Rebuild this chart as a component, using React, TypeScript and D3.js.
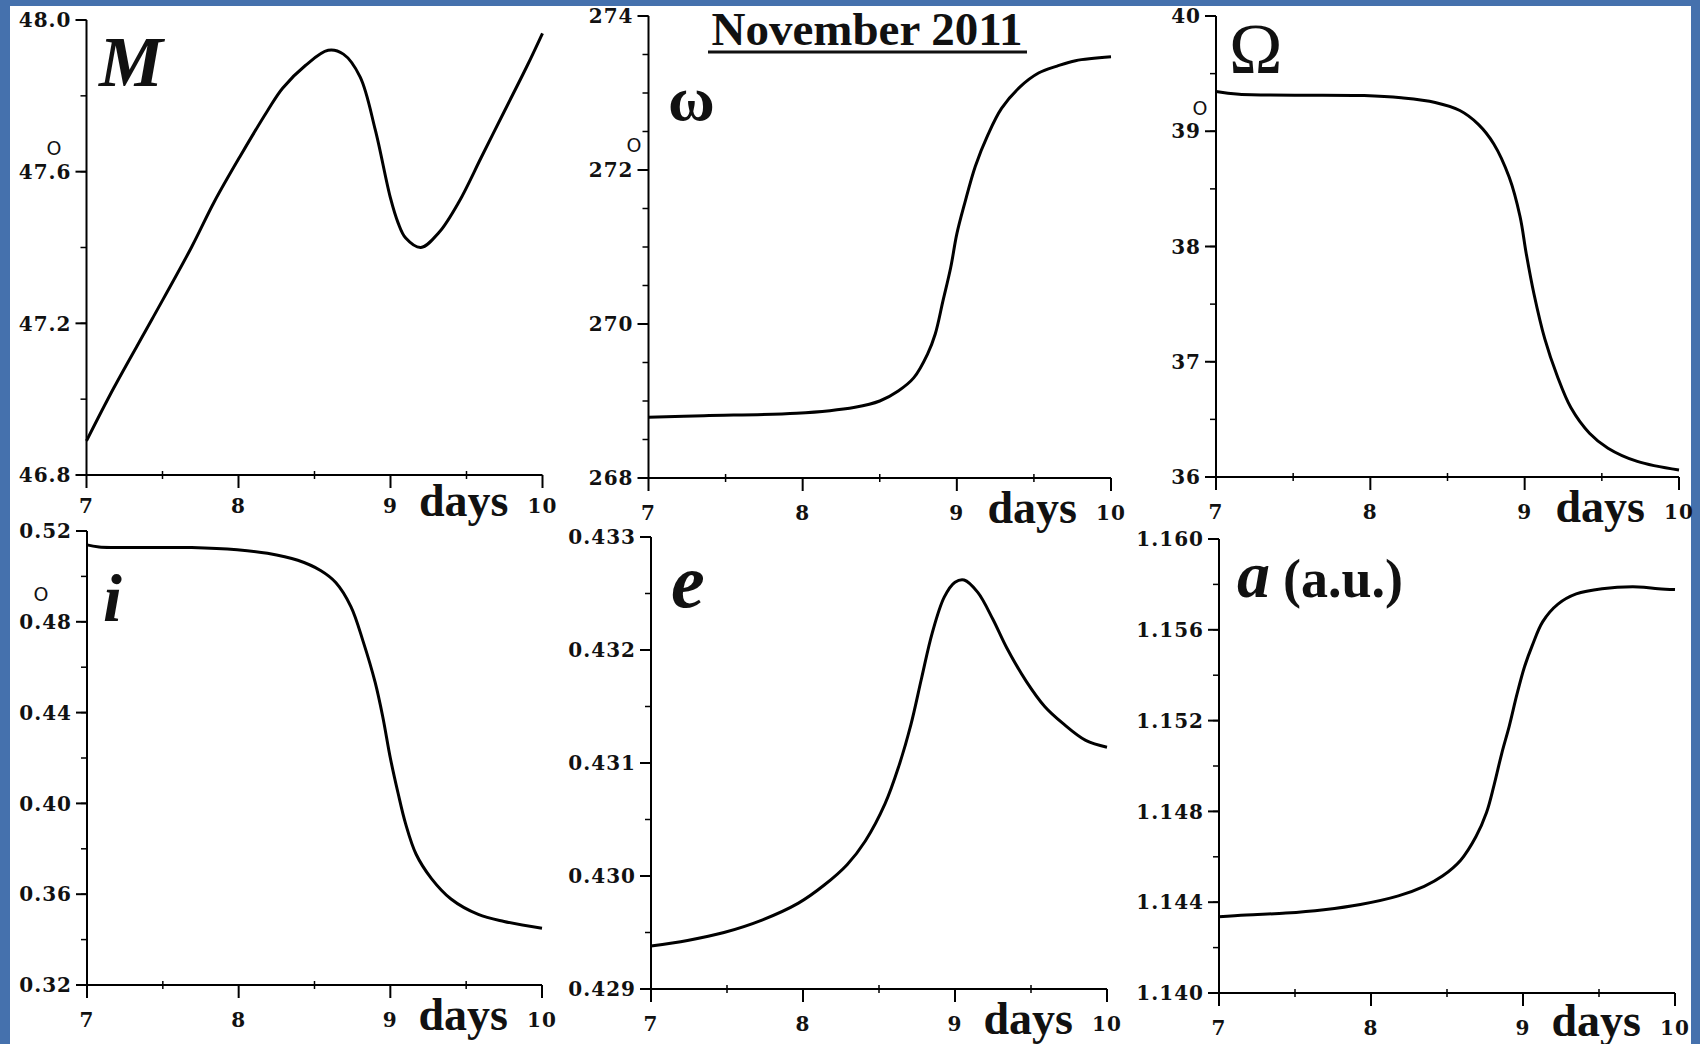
import React from 'react';
import * as d3 from 'd3';

// ---------- data ----------
const dayTicks = [7, 8, 9, 10];
const dayMinorTicks = [7.5, 8.5, 9.5];
const xAxisTitle = 'days';
const titleText = 'November 2011';

// Mean anomaly M (deg)
const mDays = [7.0, 7.18, 7.43, 7.69, 7.84, 8.01, 8.19, 8.29, 8.44, 8.59, 8.69, 8.8, 8.9, 9.0, 9.05, 9.1, 9.2, 9.32, 9.45, 9.6, 9.75, 9.9, 10.0];
const mValues = [46.89, 47.03, 47.21, 47.4, 47.52, 47.64, 47.76, 47.82, 47.88, 47.92, 47.91, 47.85, 47.71, 47.53, 47.465, 47.425, 47.4, 47.44, 47.52, 47.64, 47.76, 47.88, 47.965];
const mLabelTicks = [46.8, 47.2, 47.6, 48.0];

// Argument of perihelion omega (deg)
const wDays = [7.0, 7.36, 7.96, 8.34, 8.5, 8.62, 8.72, 8.81, 8.86, 8.91, 8.96, 9.0, 9.05, 9.12, 9.2, 9.29, 9.41, 9.53, 9.65, 9.77, 10.0];
const wValues = [268.79, 268.81, 268.84, 268.92, 269.0, 269.13, 269.3, 269.61, 269.87, 270.3, 270.73, 271.17, 271.56, 272.05, 272.45, 272.8, 273.08, 273.26, 273.35, 273.42, 273.47];
const wLabelTicks = [268, 270, 272, 274];

// Longitude of ascending node Omega (deg)
const nodeDays = [7.0, 7.15, 7.96, 8.2, 8.42, 8.58, 8.7, 8.8, 8.9, 8.97, 9.01, 9.06, 9.13, 9.21, 9.3, 9.42, 9.54, 9.73, 10.0];
const nodeValues = [39.345, 39.32, 39.31, 39.29, 39.25, 39.18, 39.06, 38.89, 38.6, 38.26, 37.94, 37.59, 37.2, 36.88, 36.6, 36.38, 36.25, 36.135, 36.06];
const nodeLabelTicks = [36, 37, 38, 39, 40];

// Inclination i (deg)
const iDays = [7.0, 7.08, 7.69, 7.99, 8.19, 8.39, 8.54, 8.64, 8.74, 8.82, 8.9, 8.95, 9.0, 9.05, 9.1, 9.17, 9.27, 9.4, 9.58, 9.75, 10.0];
const iValues = [0.5139, 0.513, 0.5127, 0.5117, 0.5102, 0.5071, 0.5026, 0.4973, 0.4867, 0.4715, 0.4533, 0.4382, 0.42, 0.4048, 0.3912, 0.3776, 0.367, 0.3579, 0.3511, 0.348, 0.345];
const iLabelTicks = [0.32, 0.36, 0.4, 0.44, 0.48, 0.52];

// Eccentricity e
const eDays = [7.0, 7.24, 7.48, 7.73, 7.97, 8.14, 8.29, 8.41, 8.54, 8.63, 8.71, 8.78, 8.85, 8.93, 9.0, 9.06, 9.15, 9.25, 9.34, 9.47, 9.59, 9.71, 9.86, 10.0];
const eValues = [0.42938, 0.42943, 0.4295, 0.42961, 0.42976, 0.42992, 0.4301, 0.43031, 0.43064, 0.43097, 0.43134, 0.43175, 0.43215, 0.43247, 0.4326, 0.43262, 0.43251, 0.43227, 0.43202, 0.43172, 0.4315, 0.43135, 0.4312, 0.43114];
const eLabelTicks = [0.429, 0.43, 0.431, 0.432, 0.433];

// Semi-major axis a (a.u.)
const aDays = [7.0, 7.18, 7.44, 7.69, 7.93, 8.18, 8.35, 8.47, 8.59, 8.69, 8.76, 8.81, 8.86, 8.91, 8.96, 9.01, 9.06, 9.13, 9.23, 9.35, 9.52, 9.76, 9.89, 10.0];
const aValues = [1.14336, 1.14344, 1.14352, 1.14367, 1.1439, 1.14428, 1.1447, 1.14515, 1.14585, 1.14688, 1.14795, 1.14917, 1.15055, 1.15177, 1.15315, 1.15437, 1.15529, 1.15636, 1.15713, 1.15758, 1.15781, 1.15789, 1.15781, 1.15777];
const aLabelTicks = [1.14, 1.144, 1.148, 1.152, 1.156, 1.16];

// ---------- panel definitions ----------
const series = [
  { days: mDays, values: mValues, labels: mLabelTicks, minorStep: 0.2, fmt: '.1f' },
  { days: wDays, values: wValues, labels: wLabelTicks, minorStep: 0.5, fmt: 'd' },
  { days: nodeDays, values: nodeValues, labels: nodeLabelTicks, minorStep: 0.5, fmt: 'd' },
  { days: iDays, values: iValues, labels: iLabelTicks, minorStep: 0.02, fmt: '.2f' },
  { days: eDays, values: eValues, labels: eLabelTicks, minorStep: 0.0005, fmt: '.3f' },
  { days: aDays, values: aValues, labels: aLabelTicks, minorStep: 0.002, fmt: '.3f' },
];

const layout = [
  { x0: 86.5, x1: 542.5, yTop: 20, yBot: 475, lblDy: 31, daysDy: 41 },
  { x0: 648.5, x1: 1111, yTop: 16, yBot: 478, lblDy: 35, daysDy: 45 },
  { x0: 1216, x1: 1679, yTop: 16, yBot: 477, lblDy: 35, daysDy: 45 },
  { x0: 87, x1: 542, yTop: 531, yBot: 985, lblDy: 35, daysDy: 45 },
  { x0: 651, x1: 1107, yTop: 537, yBot: 989, lblDy: 35, daysDy: 45 },
  { x0: 1219, x1: 1675, yTop: 539, yBot: 993, lblDy: 35, daysDy: 43 },
];

const TICK_FONT = '"DejaVu Serif", serif';
const SERIF = '"Liberation Serif", "Times New Roman", serif';

function Panel({ s, l }: { s: any; l: any }) {
  const lo = s.labels[0];
  const hi = s.labels[s.labels.length - 1];
  const x = d3.scaleLinear().domain([7, 10]).range([l.x0, l.x1]);
  const y = d3.scaleLinear().domain([lo, hi]).range([l.yBot, l.yTop]);
  const n = Math.round((hi - lo) / s.minorStep);
  const minor = d3.range(n + 1).map((k) => lo + k * s.minorStep);
  const fmt = d3.format(s.fmt);
  const pts: [number, number][] = s.days.map((d: number, k: number) => [d, s.values[k]]);
  const line = d3
    .line<[number, number]>()
    .x((d) => x(d[0]))
    .y((d) => y(d[1]))
    .curve(d3.curveCatmullRom.alpha(0.5));
  const ax = x(7);
  const ay = y(lo);
  const tickText = {
    fontFamily: TICK_FONT,
    fontWeight: 'bold',
    fontSize: 20,
    letterSpacing: 1,
    fill: '#111',
  } as any;
  return (
    <g>
      {/* axes */}
      <line x1={ax} y1={y(hi)} x2={ax} y2={ay} stroke="#000" strokeWidth={2} />
      <line x1={ax} y1={ay} x2={x(10)} y2={ay} stroke="#000" strokeWidth={2} />
      {minor.map((v, k) => (
        <line key={'ym' + k} x1={ax - 6} x2={ax} y1={y(v)} y2={y(v)} stroke="#000" strokeWidth={1.5} />
      ))}
      {s.labels.map((v: number, k: number) => (
        <g key={'yl' + k}>
          <line x1={ax - 11} x2={ax} y1={y(v)} y2={y(v)} stroke="#000" strokeWidth={2} />
          <text x={ax - 15} y={y(v)} dy="0.36em" textAnchor="end" {...tickText}>
            {fmt(v)}
          </text>
        </g>
      ))}
      {dayMinorTicks.map((d, k) => (
        <line key={'xm' + k} x1={x(d)} x2={x(d)} y1={ay - 4} y2={ay + 4} stroke="#000" strokeWidth={1.5} />
      ))}
      {dayTicks.map((d, k) => (
        <g key={'xt' + k}>
          <line x1={x(d)} x2={x(d)} y1={ay} y2={ay + 13} stroke="#000" strokeWidth={2} />
          <text x={x(d)} y={ay + l.lblDy} dy="0.36em" textAnchor="middle" {...tickText}>
            {d}
          </text>
        </g>
      ))}
      <text
        x={x(10) - 34}
        y={ay + l.daysDy}
        textAnchor="end"
        fontFamily={SERIF}
        fontWeight="bold"
        fontSize={46}
        fill="#111"
      >
        {xAxisTitle}
      </text>
      <path d={line(pts) || ''} fill="none" stroke="#000" strokeWidth={3} strokeLinejoin="round" />
    </g>
  );
}

export default function App() {
  const degree = { fontFamily: '"DejaVu Sans", sans-serif', fontSize: 19, fill: '#111' } as any;
  return (
    <svg
      width={1700}
      height={1044}
      style={{ position: 'absolute', left: 0, top: 0, display: 'block' }}
    >
      <rect x={0} y={0} width={1700} height={1044} fill="#4571ad" />
      <rect x={10} y={6} width={1681} height={1040} fill="#ffffff" />
      {series.map((s, k) => (
        <Panel key={k} s={s} l={layout[k]} />
      ))}

      {/* title */}
      <text x={867} y={45} textAnchor="middle" fontFamily={SERIF} fontWeight="bold" fontSize={47} fill="#111">
        {titleText}
      </text>
      <line x1={708} x2={1027} y1={52} y2={52} stroke="#111" strokeWidth={3} />

      {/* panel symbols */}
      <text x={99} y={86} fontFamily={SERIF} fontWeight="bold" fontStyle="italic" fontSize={72} fill="#111">M</text>
      <text x={668} y={120} fontFamily={SERIF} fontWeight="bold" fontSize={64} fill="#111">ω</text>
      <text x={1229} y={73} fontFamily={SERIF} fontSize={72} fill="#111">Ω</text>
      <text x={103} y={621} fontFamily={SERIF} fontWeight="bold" fontStyle="italic" fontSize={68} fill="#111">i</text>
      <text x={671} y={607} fontFamily={SERIF} fontWeight="bold" fontStyle="italic" fontSize={76} fill="#111">e</text>
      <text x={1237} y={597} fontFamily={SERIF} fontWeight="bold" fontStyle="italic" fontSize={66} fill="#111">a</text>
      <text x={1283} y={597} fontFamily={SERIF} fontWeight="bold" fontSize={54} fill="#111">(a.u.)</text>

      {/* degree marks */}
      <text x={54} y={148} dy="0.36em" textAnchor="middle" {...degree}>O</text>
      <text x={634} y={145} dy="0.36em" textAnchor="middle" {...degree}>O</text>
      <text x={1200} y={108} dy="0.36em" textAnchor="middle" {...degree}>O</text>
      <text x={41} y={594} dy="0.36em" textAnchor="middle" {...degree}>O</text>
    </svg>
  );
}
